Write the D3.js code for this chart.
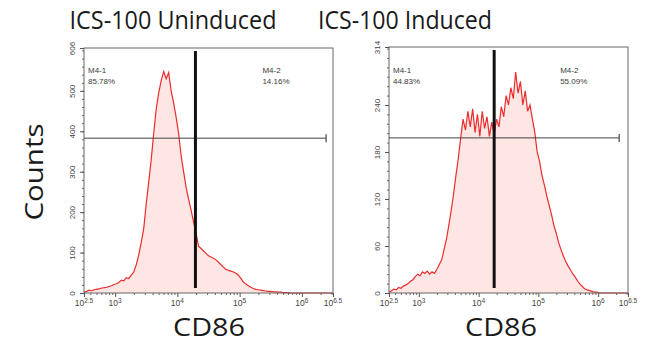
<!DOCTYPE html>
<html>
<head>
<meta charset="utf-8">
<script src="https://cdn.jsdelivr.net/npm/d3@7"></script>
<style>
  body { margin: 0; background: #fff; }
  svg { display: block; }
</style>
</head>
<body>
<div id="chart"></div>
<script>
// log10 bin positions of the histogram channels
const binLogs = d3.range(0, 101).map(i => 2.5 + i * 0.04);

// counts, one per bin
const uninducedCounts = [
  2, 4, 7, 5, 8, 9, 10, 12, 13, 14, 16, 18, 21, 23, 26, 32, 30, 38, 36, 44,
  52, 70, 95, 125, 160, 221, 275, 330, 395, 455, 495, 525, 548, 530, 545, 500, 470, 435, 395, 340,
  300, 262, 232, 205, 176, 148, 116, 110, 104, 98, 92, 89, 86, 82, 76, 70, 64, 58, 56, 54,
  52, 49, 44, 36, 27, 22, 18, 14, 11, 9, 8, 7, 6, 5, 4, 4, 3, 3, 2, 2,
  1, 1, 1, 0, 0, 0, 0, 0, 0, 0, 0, 0, 0, 0, 0, 0, 0, 0, 0, 0, 0
];
const inducedCounts = [
  1, 3, 5, 4, 7, 6, 9, 10, 12, 15, 17, 21, 24, 22, 27, 25, 28, 24, 27, 25,
  30, 36, 42, 55, 68, 86, 105, 126, 150, 172, 198, 222, 208, 232, 212, 235, 205, 228, 200, 232,
  210, 225, 200, 218, 202, 222, 212, 238, 225, 252, 240, 262, 248, 282, 255, 270, 240, 258, 232, 240,
  222, 205, 180, 168, 150, 138, 124, 112, 100, 86, 76, 64, 55, 47, 40, 34, 29, 24, 20, 15,
  11, 8, 5, 4, 3, 2, 1, 1, 0, 0, 0, 0, 0, 0, 0, 0, 0, 0, 0, 0, 0
];

const titles = ["ICS-100 Uninduced", "ICS-100 Induced"];
const xTickPowers = [2.5, 3, 4, 5, 6, 6.5];
const yTicksUninduced = [0, 100, 200, 300, 400, 500, 606];
const yTicksInduced = [0, 60, 120, 180, 240, 314];
const yMaxes = [606, 314];
const gateValues = [19500, 18200];        // vertical M4 split
const markerCounts = [383, 198];          // height of the horizontal marker bar
const markerEnd = [2.45e6, 2.25e6];       // right end of the marker bar
const regionNames = ["M4-1", "M4-2"];
const uninducedPct = ["85.78%", "14.16%"];
const inducedPct = ["44.83%", "55.09%"];

const width = 654, height = 347;
const bigFont = "'Open Sans', Lato, sans-serif";
const smallFont = "'Liberation Sans', Arial, sans-serif";

const svg = d3.select("#chart")
  .append("svg")
  .attr("width", width)
  .attr("height", height);

const panels = [
  { left: 84, right: 333, top: 48, bottom: 293, counts: uninducedCounts, yTicks: yTicksUninduced, minorStep: 20, pct: uninducedPct, titleX: 173, titleW: 207, cdX: 209 },
  { left: 389, right: 628, top: 47, bottom: 293, counts: inducedCounts, yTicks: yTicksInduced, minorStep: 12, pct: inducedPct, titleX: 405, titleW: 174, cdX: 501 }
];

panels.forEach((p, k) => drawPanel(p, k));

// shared y label
svg.append("text")
  .attr("transform", "translate(43,172)rotate(-90)")
  .attr("text-anchor", "middle")
  .attr("textLength", 97)
  .attr("lengthAdjust", "spacingAndGlyphs")
  .style("font-family", bigFont)
  .style("font-size", "26px")
  .attr("fill", "#1a1a1a")
  .text("Counts");

function drawPanel(p, k) {
  const g = svg.append("g");

  const x = d3.scaleLog()
    .domain([Math.pow(10, 2.5), Math.pow(10, 6.5)])
    .range([p.left, p.right]);

  const y = d3.scaleLinear()
    .domain([0, yMaxes[k]])
    .range([p.bottom, p.top]);

  // histogram area + outline
  const pts = p.counts.map((c, i) => [Math.pow(10, binLogs[i]), c]);

  g.append("path")
    .datum(pts)
    .attr("fill", "#fde6e4")
    .attr("d", d3.area().x(d => x(d[0])).y0(y(0)).y1(d => y(d[1])));

  g.append("path")
    .datum(pts)
    .attr("fill", "none")
    .attr("stroke", "#eb2c2c")
    .attr("stroke-width", 1.2)
    .attr("d", d3.line().x(d => x(d[0])).y(d => y(d[1])));

  // frame
  g.append("rect")
    .attr("x", p.left)
    .attr("y", p.top)
    .attr("width", p.right - p.left)
    .attr("height", p.bottom - p.top)
    .attr("fill", "none")
    .attr("stroke", "#666")
    .attr("stroke-width", 1);

  // y axis
  const yMinor = d3.range(0, yMaxes[k], p.minorStep);
  g.append("g")
    .attr("transform", "translate(" + p.left + ",0)")
    .call(d3.axisLeft(y).tickValues(yMinor).tickSize(2).tickFormat(""))
    .call(a => a.select(".domain").remove())
    .selectAll("line").attr("stroke", "#666");

  const yAx = g.append("g")
    .attr("transform", "translate(" + p.left + ",0)")
    .call(d3.axisLeft(y).tickValues(p.yTicks).tickSize(4).tickPadding(2))
    .call(a => a.select(".domain").remove());
  yAx.selectAll("line").attr("stroke", "#555");
  yAx.selectAll("text")
    .attr("x", 0)
    .attr("y", 0)
    .attr("dy", 0)
    .attr("transform", "translate(-9,0)rotate(-90)")
    .attr("text-anchor", "middle")
    .style("font-family", smallFont)
    .style("font-size", "8px")
    .attr("fill", "#444");

  // x axis minor ticks
  const xMinor = [];
  for (let e = 2; e <= 6; e++) {
    for (let m = 2; m <= 9; m++) {
      const v = m * Math.pow(10, e);
      if (v > x.domain()[0] && v < x.domain()[1]) xMinor.push(v);
    }
  }
  g.append("g")
    .attr("transform", "translate(0," + p.bottom + ")")
    .call(d3.axisBottom(x).tickValues(xMinor).tickSize(2).tickFormat(""))
    .call(a => a.select(".domain").remove())
    .selectAll("line").attr("stroke", "#666");

  const xAx = g.append("g")
    .attr("transform", "translate(0," + p.bottom + ")")
    .call(d3.axisBottom(x).tickValues(xTickPowers.map(e => Math.pow(10, e))).tickSize(4).tickFormat(""))
    .call(a => a.select(".domain").remove());
  xAx.selectAll("line").attr("stroke", "#555");

  const xLab = g.selectAll(".xlab")
    .data(xTickPowers)
    .enter()
    .append("text")
    .attr("x", e => x(Math.pow(10, e)))
    .attr("y", p.bottom + 13)
    .attr("text-anchor", "middle")
    .style("font-family", smallFont)
    .style("font-size", "8.5px")
    .attr("fill", "#444");
  xLab.append("tspan").text("10");
  xLab.append("tspan")
    .attr("dy", -3.5)
    .style("font-size", "6.5px")
    .text(e => e);

  // marker bar (horizontal) with end tick
  const my = y(markerCounts[k]);
  g.append("line")
    .attr("x1", p.left).attr("x2", x(markerEnd[k]))
    .attr("y1", my).attr("y2", my)
    .attr("stroke", "#444")
    .attr("stroke-width", 1);
  g.append("line")
    .attr("x1", x(markerEnd[k])).attr("x2", x(markerEnd[k]))
    .attr("y1", my - 4).attr("y2", my + 4)
    .attr("stroke", "#444")
    .attr("stroke-width", 1.2);

  // gate split line
  g.append("line")
    .attr("x1", x(gateValues[k])).attr("x2", x(gateValues[k]))
    .attr("y1", p.top + 3).attr("y2", p.bottom - 5)
    .attr("stroke", "#111")
    .attr("stroke-width", 3);

  // region labels
  const labX = [p.left + 4, x(gateValues[k]) + (k === 0 ? 67 : 66)];
  regionNames.forEach((name, j) => {
    const t = g.append("text")
      .attr("x", labX[j])
      .attr("y", 73)
      .style("font-family", smallFont)
      .style("font-size", "8px")
      .attr("fill", "#3a3a3a");
    t.append("tspan").attr("x", labX[j]).text(name);
    t.append("tspan").attr("x", labX[j]).attr("dy", 11).text(p.pct[j]);
  });

  // title
  svg.append("text")
    .attr("x", p.titleX)
    .attr("y", 29)
    .attr("text-anchor", "middle")
    .attr("textLength", p.titleW)
    .attr("lengthAdjust", "spacingAndGlyphs")
    .style("font-family", bigFont)
    .style("font-size", "26px")
    .attr("fill", "#1a1a1a")
    .text(titles[k]);

  // x label
  svg.append("text")
    .attr("x", p.cdX)
    .attr("y", 336)
    .attr("text-anchor", "middle")
    .attr("textLength", 72)
    .attr("lengthAdjust", "spacingAndGlyphs")
    .style("font-family", bigFont)
    .style("font-size", "25px")
    .attr("fill", "#1a1a1a")
    .text("CD86");
}
</script>
</body>
</html>
